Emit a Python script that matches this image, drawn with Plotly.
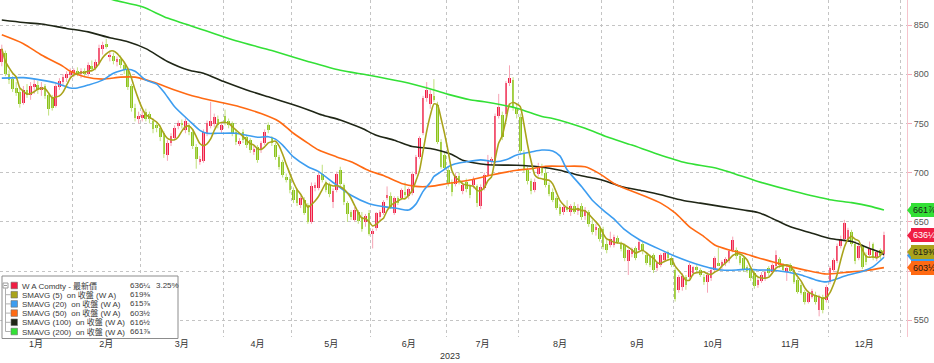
import numpy as np
import pandas as pd
import plotly.graph_objects as go

# ---------------- data ----------------
holidays = ["2023-01-02", "2023-01-16", "2023-02-20", "2023-04-07", "2023-05-29",
            "2023-06-19", "2023-07-04", "2023-09-04", "2023-11-23", "2023-12-25"]
calendar = pd.bdate_range("2023-01-03", "2023-12-29")
calendar = calendar[~calendar.isin(pd.to_datetime(holidays))]

opens = [812, 822, 800, 795, 786, 782, 771, 784, 779, 787, 789, 784, 788, 779, 776, 768, 787, 792, 796, 799,
         801, 803, 800, 803, 800, 808, 806, 811, 826, 831, 817, 819, 812, 815, 809, 805, 788, 766, 755,
         756, 762, 760, 752, 748, 745, 740, 718, 730, 735, 747, 750, 743, 748, 741, 726, 711, 712, 740, 747, 749, 754, 743,
         758, 752, 750, 741, 730, 741, 736, 733, 721, 726, 723, 730, 748, 735, 728, 716, 711, 696, 694,
         682, 682, 667, 672, 667, 650, 685, 684, 699, 690, 687, 670, 682, 703, 687, 669, 660, 652, 660, 655, 650, 659,
         638, 644, 655, 659, 674, 676, 659, 674, 674, 680, 676, 679, 699, 716, 740, 776, 770, 778, 769, 731, 718,
         703, 690, 688, 697, 681, 690, 686, 687, 686, 666, 684, 698, 712, 710, 758, 759, 760, 791, 794, 766,
         757, 720, 703, 691, 682, 699, 706, 700, 687, 680, 674, 665, 660, 665, 660, 666, 661, 666, 656, 660, 648, 642, 644,
         643, 628, 626, 626, 634, 628, 626, 610, 617, 623, 621, 628, 616, 615, 616, 603, 606, 611, 619, 613,
         601, 581, 584, 594, 594, 598, 604, 601, 594, 589, 593, 601, 608, 605, 608, 610, 621, 621, 615, 613, 604, 603,
         598, 586, 590, 593, 603, 599, 605, 612, 605, 599, 606, 601, 591, 586, 579, 569, 574, 576, 560, 574, 571,
         589, 601, 610, 625, 633, 632, 640, 628, 613, 625, 616, 616, 627, 613, 621, 617]
highs = [830, 824, 804, 798, 792, 785, 788, 790, 792, 795, 793, 792, 790, 781, 779, 791, 796, 800, 803, 806,
         806, 807, 806, 806, 812, 814, 815, 830, 833, 836, 823, 822, 818, 819, 812, 807, 790, 770, 762,
         763, 765, 762, 755, 751, 748, 742, 733, 740, 748, 753, 754, 755, 750, 744, 729, 717, 744, 753, 772, 760, 758, 751,
         764, 755, 752, 744, 735, 744, 738, 735, 727, 728, 732, 744, 751, 737, 730, 718, 713, 699, 696,
         685, 684, 676, 675, 669, 690, 690, 700, 708, 692, 690, 684, 701, 706, 689, 671, 662, 665, 662, 660, 658, 662,
         643, 660, 662, 672, 686, 680, 676, 676, 684, 690, 685, 701, 718, 737, 778, 792, 784, 795, 772, 734, 722,
         706, 693, 700, 700, 690, 694, 688, 696, 688, 688, 700, 718, 716, 760, 780, 762, 793, 809, 797, 770,
         760, 723, 706, 694, 694, 710, 709, 704, 690, 684, 676, 668, 668, 672, 668, 670, 668, 669, 665, 662, 652, 648, 646,
         645, 632, 640, 637, 636, 630, 628, 622, 624, 625, 632, 630, 618, 617, 618, 610, 618, 620, 621, 615,
         603, 596, 598, 596, 608, 605, 606, 603, 597, 599, 603, 615, 624, 611, 614, 622, 635, 624, 617, 615, 606, 605,
         600, 593, 599, 601, 605, 608, 621, 614, 608, 606, 608, 603, 593, 588, 581, 580, 582, 579, 576, 576, 586,
         605, 613, 628, 636, 652, 644, 642, 631, 628, 627, 619, 630, 629, 621, 623, 640]
lows = [808, 798, 790, 782, 778, 766, 769, 776, 774, 780, 780, 778, 775, 758, 763, 766, 784, 788, 792, 795,
        797, 798, 796, 798, 798, 803, 804, 809, 820, 826, 813, 810, 808, 806, 800, 784, 762, 752, 750,
        752, 752, 750, 740, 741, 732, 715, 712, 727, 733, 744, 745, 740, 738, 724, 704, 708, 710, 737, 745, 746, 745, 740,
        748, 745, 737, 728, 727, 730, 725, 720, 718, 710, 720, 728, 740, 727, 713, 703, 695, 690, 679,
        669, 666, 664, 657, 648, 648, 681, 682, 690, 680, 675, 664, 680, 685, 667, 650, 652, 650, 648, 640, 645, 636,
        623, 641, 652, 657, 672, 663, 657, 667, 672, 674, 673, 677, 697, 714, 738, 772, 765, 772, 729, 704, 703,
        686, 676, 686, 688, 678, 680, 674, 684, 665, 663, 682, 696, 708, 708, 755, 733, 757, 788, 763, 755,
        718, 700, 688, 678, 680, 696, 697, 685, 676, 670, 662, 656, 657, 660, 656, 658, 657, 652, 652, 645, 637, 636, 630,
        622, 618, 624, 624, 628, 620, 610, 596, 614, 611, 619, 617, 606, 604, 598, 600, 604, 609, 611, 604,
        569, 578, 580, 581, 592, 595, 599, 594, 586, 578, 590, 599, 605, 602, 605, 608, 619, 612, 606, 599, 598, 590,
        582, 583, 588, 590, 595, 597, 603, 603, 599, 590, 598, 587, 577, 576, 566, 567, 572, 566, 554, 557, 568,
        587, 599, 608, 623, 631, 630, 625, 607, 611, 602, 606, 614, 611, 610, 612, 614]
closes = [826, 800, 794, 785, 781, 770, 784, 779, 788, 790, 784, 787, 778, 765, 766, 788, 793, 797, 800, 802,
          804, 800, 803, 800, 809, 806, 812, 827, 830, 828, 820, 813, 815, 809, 804, 787, 766, 756, 758,
          759, 755, 754, 744, 745, 736, 719, 730, 737, 745, 750, 749, 752, 741, 727, 714, 714, 741, 750, 752, 757, 748, 748,
          750, 748, 740, 731, 732, 733, 728, 723, 724, 713, 730, 741, 743, 730, 716, 706, 698, 693, 682,
          672, 669, 674, 659, 650, 686, 687, 698, 693, 682, 678, 681, 699, 688, 670, 658, 655, 662, 651, 643, 656, 638,
          641, 659, 660, 670, 677, 665, 674, 669, 682, 677, 683, 699, 716, 735, 776, 784, 780, 774, 731, 706, 705,
          689, 680, 697, 690, 687, 683, 677, 694, 669, 685, 698, 713, 714, 758, 767, 736, 791, 796, 766, 760,
          722, 704, 692, 681, 690, 706, 700, 687, 678, 672, 664, 658, 665, 662, 666, 660, 664, 655, 662, 648, 640, 645, 633,
          624, 621, 633, 635, 630, 622, 613, 621, 622, 613, 630, 620, 608, 606, 601, 608, 616, 618, 613, 606,
          572, 594, 595, 586, 606, 604, 601, 596, 589, 596, 601, 613, 606, 609, 612, 620, 632, 615, 608, 601, 600, 593,
          585, 591, 596, 599, 598, 606, 616, 606, 601, 603, 600, 589, 579, 578, 569, 578, 580, 569, 574, 560, 584,
          603, 611, 625, 633, 649, 642, 628, 610, 625, 604, 609, 622, 613, 619, 616, 636.25]

# moving averages (trading-day index : value)
sma20_days = [0, 6, 11, 15, 19, 21, 24, 28, 31, 35, 37, 40, 43, 45, 48, 52, 55, 57, 60, 65, 68, 71, 74, 76, 78, 81,
              85, 88, 92, 97, 102, 106, 110, 113, 115, 117, 119, 120, 122, 124, 126, 129, 133, 137, 140, 143, 147,
              150, 153, 155, 157, 161, 164, 167, 170, 173, 177, 181, 184, 187, 191, 194, 197, 200, 204, 207, 210,
              213, 217, 222, 226, 229, 231, 235, 239, 242, 245]
sma20_vals = [796, 796.5, 794, 791, 786, 786, 789, 794, 801, 805, 803, 794, 790, 782, 767, 753, 743, 740, 740, 740,
              738, 736, 736.5, 734, 728, 716, 706, 701, 690, 677, 668.5, 665.5, 663.5, 662, 668, 681, 690, 696, 701,
              706, 709, 711, 713, 711, 713, 718, 721, 723, 722, 717, 703, 686, 672, 662, 653, 642, 632, 625, 620,
              615, 609.5, 606, 603, 601, 601, 602, 601, 601, 599.5, 596, 591, 589, 591, 596, 599.5, 604.5, 614]
sma50_days = [0, 6, 11, 17, 19, 23, 28, 33, 37, 42, 48, 54, 60, 66, 72, 77, 81, 85, 88, 93, 97, 102, 106, 111, 115,
              119, 124, 130, 136, 143, 147, 151, 156, 162, 166, 170, 174, 179, 183, 187, 191, 195, 198, 202, 206,
              210, 214, 219, 225, 229, 234, 240, 245]
sma50_vals = [840, 831, 819.5, 808, 803, 797.5, 795, 797, 797, 792, 784, 777, 772, 767, 760, 752, 740, 730, 723, 716,
              711, 702, 697, 689, 686, 686, 689, 692.5, 697.5, 702.5, 704, 706.5, 706.5, 706, 699, 689, 682.5, 675.5,
              669, 659, 645, 635, 626.5, 621.5, 618, 613.5, 609.5, 604.5, 599.5, 597, 598.5, 600.5, 603.5]
sma100_days = [0, 6, 11, 18, 24, 30, 35, 40, 46, 52, 56, 62, 68, 74, 81, 85, 89, 94, 100, 104, 109, 114, 119, 122,
               125, 128, 131, 135, 143, 149, 155, 160, 165, 168, 172, 178, 183, 189, 194, 200, 206, 210, 214, 219,
               225, 230, 236, 241, 244, 245]
sma100_vals = [855, 852.5, 851, 846.5, 843, 837, 833, 826, 813, 804, 801, 792, 784, 777, 769, 764, 758.5, 753.5, 745,
               738, 733, 726.5, 724.5, 722, 718.5, 712.5, 710, 708, 707.5, 706, 702.5, 697.5, 694, 691, 686, 681.5,
               677.5, 672, 669, 665.5, 662, 659.5, 653.5, 645, 638.5, 633, 630, 623, 619, 616.5]
sma200_days = [0, 10, 20, 31, 39, 46, 56, 65, 75, 85, 94, 102, 111, 115, 120, 124, 130, 134, 143, 150, 153, 162,
               168, 175, 182, 190, 199, 210, 220, 230, 236, 241, 245]
sma200_vals = [912, 899, 887, 875.5, 868.5, 857, 845, 834, 824, 813, 804, 799, 792.5, 789, 784, 779.5, 774, 772,
               765.5, 757, 755, 745, 736.5, 728, 719, 710, 704, 691, 681, 672.5, 669.5, 666, 662]

month_labels = ["1月", "2月", "3月", "4月", "5月", "6月", "7月", "8月", "9月", "10月", "11月", "12月"]
year_label = "2023"
y_ticks = [550, 600, 650, 700, 750, 800, 850]

legend_names = ["W A Comdty - 最新價", "SMAVG (5)  on 收盤 (W A)", "SMAVG (20)  on 收盤 (W A)",
                "SMAVG (50)  on 收盤 (W A)", "SMAVG (100)  on 收盤 (W A)", "SMAVG (200)  on 收盤 (W A)"]
legend_values = ["636¼", "619⅜", "615⅞", "603½", "616½", "661⅞"]
legend_nums = [636.25, 619.375, 615.875, 603.5, 616.5, 661.875]
change_text = "3.25%"

# ---------------- styling ----------------
UP, UP_WICK = "#f01d43", "#f6a3b4"
DN, DN_WICK = "#8bc21a", "#bfe07c"
C5, C20, C50, C100, C200 = "#a9a31b", "#3d9df0", "#ff6a13", "#1f2616", "#33e036"
series_colors = [UP, C5, C20, C50, C100, C200]
FONT = "Liberation Sans, Noto Sans CJK TC, sans-serif"

W, H = 934, 363
ML, MR, MT, MB = 0, 27, 0, 26
PW, PH = W - ML - MR, H - MT - MB


def px(xp):
    return (xp - ML) / PW


def py(yp):
    return 1 - (yp - MT) / PH


n = len(closes)
x = np.arange(n)
dates = calendar[:n]
o = np.array(opens, float)
c = np.array(closes, float)
hi = np.array(highs, float)
lo = np.array(lows, float)
up = c >= o

# month grid lines / label positions from the trading calendar
months = calendar.month.values
starts = [0] + [i for i in range(1, len(calendar)) if months[i] != months[i - 1]]
ends = starts[1:] + [len(calendar)]
boundaries = [s - 0.5 for s in starts] + [len(calendar) - 0.5]
centers = [(s + e) / 2 - 0.5 for s, e in zip(starts, ends)]

fig = go.Figure()

# wicks
for mask, col in [(up, UP_WICK), (~up, DN_WICK)]:
    xs, ys = [], []
    for i in np.where(mask)[0]:
        xs += [i, i, None]
        ys += [lo[i], hi[i], None]
    fig.add_trace(go.Scatter(x=xs, y=ys, mode="lines", line=dict(color=col, width=1),
                             hoverinfo="skip"))

# bodies
base = np.minimum(o, c)
height = np.maximum(np.abs(c - o), 0.9)
fig.add_trace(go.Bar(x=x, y=height, base=base, width=0.74,
                     marker=dict(color=[UP if u else DN for u in up], line=dict(width=0)),
                     customdata=dates.strftime("%Y-%m-%d"), hovertemplate="%{customdata}<extra></extra>"))

# moving averages
for days, vals, col in [(sma200_days, sma200_vals, C200), (sma100_days, sma100_vals, C100),
                        (sma50_days, sma50_vals, C50), (sma20_days, sma20_vals, C20)]:
    fig.add_trace(go.Scatter(x=days, y=vals, mode="lines",
                             line=dict(color=col, width=1.6, shape="spline", smoothing=0.7),
                             hoverinfo="skip"))
sma5 = pd.Series(c).rolling(5, min_periods=1).mean()
fig.add_trace(go.Scatter(x=x, y=sma5, mode="lines", line=dict(color=C5, width=1.6, shape="spline", smoothing=0.5),
                         hoverinfo="skip"))

shapes = []
annotations = []
LFONT = dict(size=8, color="#3a3a3a", family=FONT)

# legend box
shapes.append(dict(type="rect", xref="paper", yref="paper", x0=px(2), x1=px(178), y0=py(338.5), y1=py(276),
                   line=dict(color="#8c8c8c", width=1), fillcolor="white", layer="above"))
# tree icon
shapes.append(dict(type="rect", xref="paper", yref="paper", x0=px(3), x1=px(8), y0=py(288), y1=py(283),
                   line=dict(color="#9a9a9a", width=1), fillcolor="white", layer="above"))
shapes.append(dict(type="line", xref="paper", yref="paper", x0=px(4), x1=px(7), y0=py(285.5), y1=py(285.5),
                   line=dict(color="#9a9a9a", width=1), layer="above"))
rows_y = [285.5, 294.7, 303.9, 313.1, 322.3, 331.5]
shapes.append(dict(type="line", xref="paper", yref="paper", x0=px(5.5), x1=px(5.5), y0=py(288), y1=py(rows_y[-1]),
                   line=dict(color="#b0b0b0", width=1), layer="above"))
for k, (ry, name, val, col) in enumerate(zip(rows_y, legend_names, legend_values, series_colors)):
    if k > 0:
        shapes.append(dict(type="line", xref="paper", yref="paper", x0=px(5.5), x1=px(10.5), y0=py(ry), y1=py(ry),
                           line=dict(color="#b0b0b0", width=1), layer="above"))
    shapes.append(dict(type="rect", xref="paper", yref="paper", x0=px(11), x1=px(17.5), y0=py(ry + 3.3),
                       y1=py(ry - 3.3), line=dict(color="#707070", width=0.6), fillcolor=col, layer="above"))
    annotations.append(dict(xref="paper", yref="paper", x=px(20), y=py(ry), text=name, showarrow=False,
                            xanchor="left", yanchor="middle", font=LFONT))
    annotations.append(dict(xref="paper", yref="paper", x=px(128), y=py(ry), text=val, showarrow=False,
                            xanchor="left", yanchor="middle", font=LFONT))
annotations.append(dict(xref="paper", yref="paper", x=px(154), y=py(rows_y[0]), text=change_text, showarrow=False,
                        xanchor="left", yanchor="middle", font=LFONT))

# right-side value tags
tags = [(legend_nums[5], legend_values[5], C200, "#1a1a1a"),
        (legend_nums[0], legend_values[0], UP, "white"),
        (legend_nums[2], legend_values[2], C20, "#1a1a1a"),
        (legend_nums[1], legend_values[1], C5, "#1a1a1a"),
        (legend_nums[3], legend_values[3], C50, "#1a1a1a")]
for val, txt, col, tcol in tags:
    shapes.append(dict(type="path", xref="paper", yref="y", xsizemode="pixel", ysizemode="pixel",
                       xanchor=1, yanchor=val, path="M 0 0 L 5 6 L 5 -6 Z",
                       fillcolor=col, line=dict(width=0), layer="above"))
    annotations.append(dict(xref="paper", yref="y", x=1, y=val, xshift=4, text=txt, showarrow=False,
                            xanchor="left", yanchor="middle", bgcolor=col, bordercolor=col, borderpad=1,
                            width=22, align="left", font=dict(size=9, color=tcol, family=FONT)))

# year label
annotations.append(dict(xref="x", yref="paper", x=(boundaries[0] + boundaries[-1]) / 2, y=py(356), text=year_label,
                        showarrow=False, xanchor="center", yanchor="middle",
                        font=dict(size=9, color="#333", family=FONT)))

fig.update_layout(
    width=W, height=H, margin=dict(l=ML, r=MR, t=MT, b=MB, autoexpand=False),
    plot_bgcolor="white", paper_bgcolor="white", showlegend=False, bargap=0,
    font=dict(family=FONT, size=9, color="#333"),
    shapes=shapes, annotations=annotations,
    xaxis=dict(range=[-0.5, 251.4], tickmode="array", tickvals=centers, ticktext=month_labels,
               showgrid=False, zeroline=False, showline=False, ticks="", tickfont=dict(size=9, color="#333"),
               minor=dict(tickmode="array", tickvals=boundaries, showgrid=True, gridcolor="#c4c4c4",
                          griddash="dot", gridwidth=1, ticks=""),
               fixedrange=True),
    yaxis=dict(side="right", range=[533, 875.4], tickmode="array", tickvals=y_ticks,
               showgrid=True, gridcolor="#c4c4c4", griddash="dot", gridwidth=1, zeroline=False,
               showline=True, linecolor="#f6c4cd", linewidth=1, ticks="outside", ticklen=4,
               tickcolor="#f3a9b8", tickfont=dict(size=9, color="#555"), fixedrange=True),
)

fig.write_html("out.html", config={"displayModeBar": False},
               post_script="document.body.style.margin='0';document.body.style.overflow='hidden';")
